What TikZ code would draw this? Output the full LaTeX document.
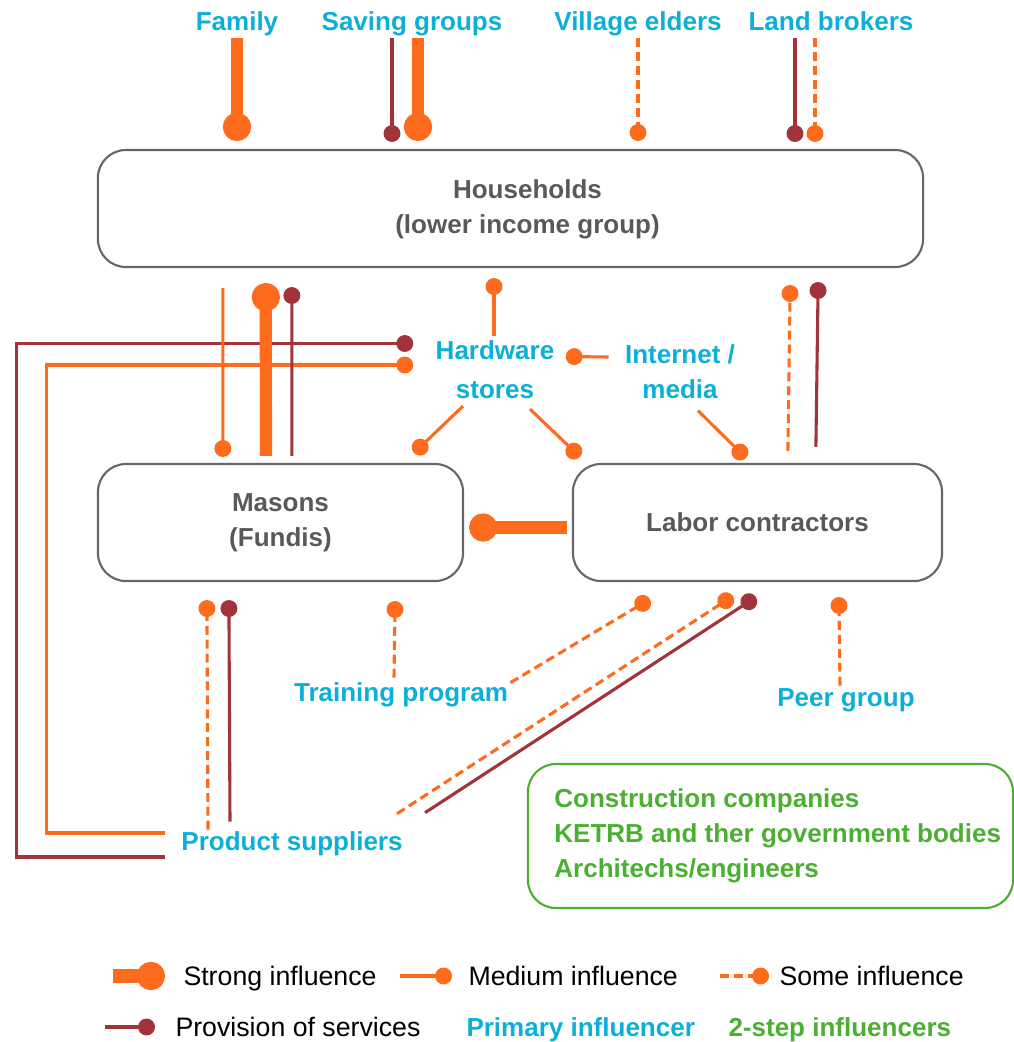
\documentclass[tikz,border=0pt]{standalone}
\usepackage{fontspec}
\setmainfont{Liberation Sans}
\usetikzlibrary{arrows.meta,calc}

\definecolor{inflorange}{HTML}{FF6B1C}
\definecolor{servred}{HTML}{A2333B}
\definecolor{primblue}{HTML}{0BAFD7}
\definecolor{stepgreen}{HTML}{4BAF32}
\definecolor{boxgray}{HTML}{666666}
\definecolor{txtgray}{HTML}{595959}

\tikzset{
  group/.style={draw=boxgray, line width=1.5pt, rounded corners=0.7cm, align=center,
    font=\fontsize{18.5}{25}\selectfont\bfseries, text=txtgray},
  primary/.style={font=\fontsize{18.5}{25}\selectfont\bfseries, text=primblue, inner sep=3pt},
  twostep/.style={font=\fontsize{18.5}{25}\selectfont\bfseries, text=stepgreen, inner sep=3pt},
  strong/.style={draw=inflorange, line width=8.7pt, -{Circle[length=20pt]}},
  medium/.style={draw=inflorange, line width=2.2pt, -{Circle[length=12pt]}},
  some/.style={medium, dash pattern=on 6.4pt off 3.5pt},
  service/.style={draw=servred, line width=2.2pt, -{Circle[length=12pt]}},
  legendtext/.style={font=\fontsize{19}{23}\selectfont, inner sep=3pt, anchor=base west}
}

\begin{document}
\begin{tikzpicture}[x=0.025cm, y=-0.025cm]
    \useasboundingbox (0,0) rectangle (1014,1042);

    % target groups
    \node[group, minimum width=20.625cm, minimum height=2.925cm] (hh) at (510.5,208.5) {};
    \node[group, draw=none] (hhtext) at ($(hh.center)+(17,1)$) {Households\\(lower income group)};
    \node[group, minimum width=9.125cm, minimum height=2.925cm] (ms) at (280.5,522.5) {Masons\\(Fundis)};
    \node[group, minimum width=9.225cm, minimum height=2.925cm] (lc) at (757.5,522.5) {Labor contractors};

    % primary influencers
    \node[primary, anchor=base] (family) at (237,30) {Family};
    \node[primary, anchor=base] (saving) at (412,30) {Saving groups};
    \node[primary, anchor=base] (village) at (638,30) {Village elders};
    \node[primary, anchor=base] (land) at (831,30) {Land brokers};
    \node[primary, align=center] (hw) at (495,369.5) {Hardware\\[2.8pt]stores};
    \node[primary, align=center] (inet) at (680,372) {Internet /\\media};
    \node[primary, anchor=base] (train) at (401,701) {Training program};
    \node[primary, anchor=base] (peer) at (846,706) {Peer group};
    \node[primary, anchor=base] (ps) at (292,850) {Product suppliers};

    % into households
    \draw[strong] ($(family.base)+(0,8)$) -- ($(family.base |- hh.north)+(0,-8)$);
    \draw[service] ($(saving.base)+(-20,8)$) -- ($(saving.base |- hh.north)+(-20,-7)$);
    \draw[strong] ($(saving.base)+(6,8)$) -- ($(saving.base |- hh.north)+(6,-8)$);
    \draw[some] ($(village.base)+(0,8)$) -- ($(village.base |- hh.north)+(0,-8)$);
    \draw[service] ($(land.base)+(-36,8)$) -- ($(land.base |- hh.north)+(-36,-7)$);
    \draw[some] ($(land.base)+(-16,8)$) -- ($(land.base |- hh.north)+(-16,-7)$);

    % product suppliers to hardware stores
    \draw[service] ($(ps.base west)+(-12,7)$) -- ++(-148,0) |- ($(hw.west)+(-18,-26)$);
    \draw[medium] ($(ps.base west)+(-12,-17)$) -- ++(-118,0) |- ($(hw.west)+(-18,-4.5)$);

    % households and masons
    \draw[medium] ($(hh.south west)+(126,20)$) -- ($(ms.north west)+(126,-6)$);
    \draw[strong] ($(ms.north west)+(169,-7)$) -- ($(hh.south west)+(169,15)$);
    \draw[service] ($(ms.north west)+(195,-7)$) -- ($(hh.south west)+(195,19)$);

    % hardware stores and internet
    \draw[medium] ($(hw.north)+(-1,0)$) -- ($(hw.north |- hh.south)+(-1,10)$);
    \draw[medium] ($(hw.south)+(-32,3)$) -- ($(ms.north east)+(-50,-10)$);
    \draw[medium] ($(hw.south)+(35,6)$) -- ($(lc.north west)+(8,-6)$);
    \draw[medium] ($(inet.west)+(-12,-15)$) -- ($(hw.east)+(7,-13)$);
    \draw[medium] ($(inet.south)+(18,7)$) -- ($(lc.north west)+(174,-5)$);

    % labor contractors
    \draw[some] ($(lc.north west)+(216,-12)$) -- ($(hh.south east)+(-134,17)$);
    \draw[service] ($(lc.north west)+(244,-16)$) -- ($(hh.south east)+(-106,14)$);
    \draw[strong] ($(lc.west)+(-5,5)$) -- ($(ms.east)+(5,5)$);

    % below the boxes
    \draw[some] ($(ps.north)+(-84,3)$) -- ($(ms.south west)+(110,18)$);
    \draw[service] ($(ps.north)+(-62,-5)$) -- ($(ms.south west)+(132,18)$);
    \draw[some] ($(ps.north east)+(-10,-13)$) -- ($(lc.south west)+(161,14)$);
    \draw[service] ($(ps.north east)+(18,-14)$) -- ($(lc.south west)+(184,15)$);
    \draw[some] ($(train.north)+(-7,0)$) -- ($(ms.south east)+(-69,19)$);
    \draw[some] ($(train.north east)+(-2,5)$) -- ($(lc.south west)+(78,17)$);
    \draw[some] ($(peer.north)+(-6,2)$) -- ($(lc.south west)+(267,15)$);

    % 2-step influencers
    \node[draw=stepgreen, line width=1.5pt, rounded corners=0.7cm, minimum width=12.125cm, minimum height=3.6cm] (twobox) at (770.5,836) {};
    \node[twostep, anchor=west, align=left] (steps) at ($(twobox.west)+(23,0)$) {Construction companies\\KETRB and ther government bodies\\Architechs/engineers};

    % legend
    \node[legendtext] (lgstrong) at (179,985) {Strong influence};
    \draw[strong, line width=10pt] ($(lgstrong.base west)+(-66,-9)$) -- ($(lgstrong.base west)+(-14,-9)$);
    \node[legendtext] (lgmedium) at (464,985) {Medium influence};
    \draw[medium] ($(lgmedium.base west)+(-64,-9)$) -- ($(lgmedium.base west)+(-12,-9)$);
    \node[legendtext] (lgsome) at (775,985) {Some influence};
    \draw[some] ($(lgsome.base west)+(-55,-9)$) -- ($(lgsome.base west)+(-6,-9)$);
    \node[legendtext] (lgservice) at (171,1036) {Provision of services};
    \draw[service] ($(lgservice.base west)+(-66,-9)$) -- ($(lgservice.base west)+(-16,-9)$);
    \node[legendtext, primary] (lgprimary) at (462,1036) {Primary influencer};
    \node[legendtext, twostep] (lgtwostep) at (724,1036) {2-step influencers};
\end{tikzpicture}
\end{document}
